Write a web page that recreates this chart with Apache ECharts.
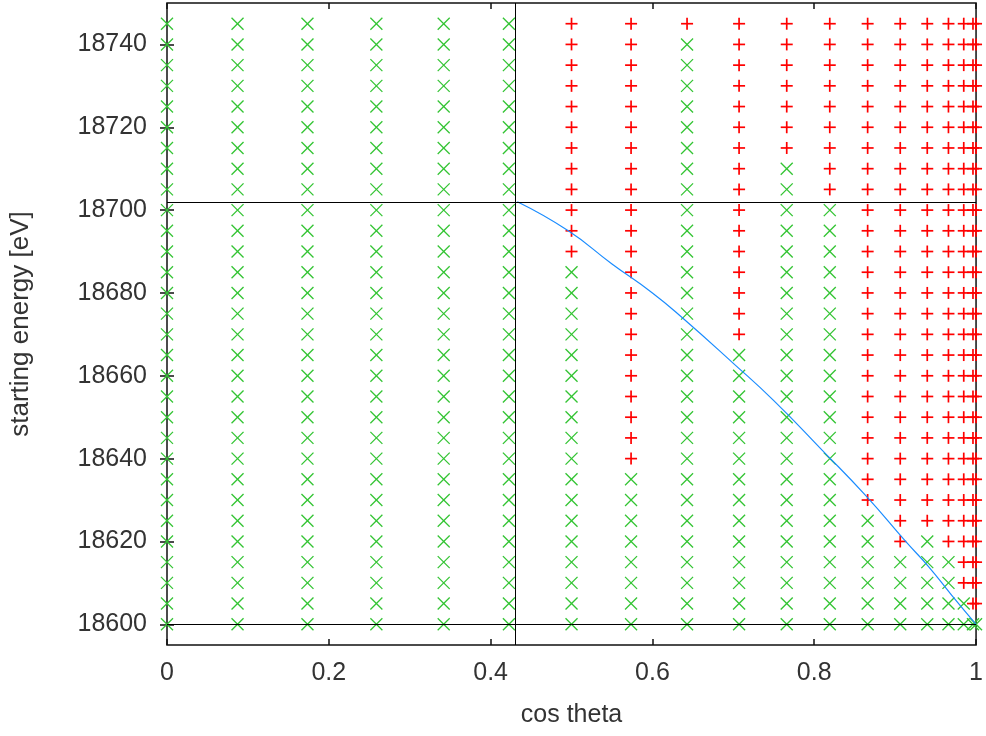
<!DOCTYPE html>
<html>
<head>
<meta charset="utf-8">
<script src="https://cdn.jsdelivr.net/npm/echarts@6/dist/echarts.min.js"></script>
<style>
html,body{margin:0;padding:0;background:#fff;}
#chart{width:986px;height:736px;}
</style>
</head>
<body>
<div id="chart"></div>
<script>
// cos(theta) columns of the scan grid
var cosColumns = [0, 0.0872, 0.1736, 0.2588, 0.3420, 0.4226, 0.5, 0.5736, 0.6428, 0.7071, 0.7660, 0.8192, 0.8660, 0.9063, 0.9397, 0.9659, 0.9848, 0.9962, 1.0];
// lowest starting energy in each column marked "+" (red); null = none
var redFrom = [null, null, null, null, null, null, 18690, 18640, 18745, 18670, 18715, 18705, 18630, 18620, 18625, 18620, 18610, 18605, 18605];
// starting energies of the scan grid [eV]
var energies = [18600, 18605, 18610, 18615, 18620, 18625, 18630, 18635, 18640, 18645, 18650, 18655, 18660, 18665, 18670, 18675, 18680, 18685, 18690, 18695, 18700, 18705, 18710, 18715, 18720, 18725, 18730, 18735, 18740, 18745];
// blue boundary curve
var curveX = [0.433, 0.496, 0.55, 0.60, 0.637, 0.70, 0.75, 0.81, 0.864, 0.913, 0.941, 0.97, 1.0];
var curveY = [18702, 18695, 18687, 18680, 18674, 18663, 18654, 18642, 18631, 18620, 18614, 18607, 18600];
// reference lines
var vLineX = [0.428];
var hLineY = [18600, 18702];
// tick labels
var xTicks = [0, 0.2, 0.4, 0.6, 0.8, 1];
var yTicks = [18600, 18620, 18640, 18660, 18680, 18700, 18720, 18740];

var redPts = [], greenPts = [];
cosColumns.forEach(function (c, i) {
  energies.forEach(function (e) {
    if (redFrom[i] !== null && e >= redFrom[i]) redPts.push([c, e]);
    else greenPts.push([c, e]);
  });
});
var curve = curveX.map(function (x, i) { return [x, curveY[i]]; });

function markRenderer(kind, color, lw) {
  return function (params, api) {
    var p = api.coord([api.value(0), api.value(1)]);
    var h = 6;
    var lines;
    if (kind === 'x') {
      lines = [[p[0]-h, p[1]-h, p[0]+h, p[1]+h], [p[0]-h, p[1]+h, p[0]+h, p[1]-h]];
    } else {
      lines = [[p[0]-h, p[1], p[0]+h, p[1]], [p[0], p[1]-h, p[0], p[1]+h]];
    }
    return {
      type: 'group',
      children: lines.map(function (l) {
        return { type: 'line', shape: {x1: l[0], y1: l[1], x2: l[2], y2: l[3]},
                 style: {stroke: color, lineWidth: lw} };
      })
    };
  };
}

var FONT = 'Liberation Sans';
var chart = echarts.init(document.getElementById('chart'), null, {renderer: 'canvas'});
chart.setOption({
  animation: false,
  backgroundColor: '#fff',
  grid: {left: 166, right: 5, top: 3, bottom: 91, show: true, borderColor: '#111', borderWidth: 1.5, backgroundColor: 'transparent'},
  xAxis: [{
    type: 'value', min: 0, max: 1, position: 'bottom',
    name: 'cos theta', nameLocation: 'middle', nameGap: 58,
    nameTextStyle: {fontFamily: FONT, fontSize: 25, color: '#333'},
    axisLine: {show: false},
    axisTick: {inside: true, length: 6, lineStyle: {color: '#111', width: 1.5}, customValues: xTicks},
    axisLabel: {fontFamily: FONT, fontSize: 25, color: '#333', margin: 16, customValues: xTicks},
    splitLine: {show: false}
  }, {
    type: 'value', min: 0, max: 1, position: 'top',
    axisLine: {show: false},
    axisTick: {inside: true, length: 6, lineStyle: {color: '#111', width: 1.5}, customValues: xTicks},
    axisLabel: {show: false},
    splitLine: {show: false}
  }],
  yAxis: [{
    type: 'value', min: 18595, max: 18750, position: 'left',
    name: 'starting energy [eV]', nameLocation: 'middle', nameGap: 133,
    nameTextStyle: {fontFamily: FONT, fontSize: 26, color: '#333'},
    axisLine: {show: false},
    axisTick: {inside: true, length: 7, lineStyle: {color: '#111', width: 1.5}, customValues: yTicks},
    axisLabel: {fontFamily: FONT, fontSize: 25, color: '#333', margin: 20, customValues: yTicks,
                formatter: function (v) { return String(v); }},
    splitLine: {show: false}
  }, {
    type: 'value', min: 18595, max: 18750, position: 'right',
    axisLine: {show: false},
    axisTick: {inside: true, length: 7, lineStyle: {color: '#111', width: 1.5}, customValues: yTicks},
    axisLabel: {show: false},
    splitLine: {show: false}
  }],
  series: [{
    type: 'custom', name: 'green', data: greenPts, xAxisIndex: 0, yAxisIndex: 0,
    renderItem: markRenderer('x', '#33c433', 1.3), clip: false, z: 2
  }, {
    type: 'custom', name: 'red', data: redPts, xAxisIndex: 0, yAxisIndex: 0,
    renderItem: markRenderer('+', '#ff0000', 1.7), clip: false, z: 3
  }, {
    type: 'line', name: 'curve', data: curve, xAxisIndex: 0, yAxisIndex: 0,
    showSymbol: false, smooth: true, lineStyle: {color: '#1a8cff', width: 1.2}, z: 4,
    markLine: {
      silent: true, symbol: 'none', animation: false,
      lineStyle: {color: '#000', width: 1, type: 'solid'},
      label: {show: false},
      data: [{xAxis: vLineX[0]}, {yAxis: hLineY[0]}, {yAxis: hLineY[1]}]
    }
  }]
});
</script>
</body>
</html>
